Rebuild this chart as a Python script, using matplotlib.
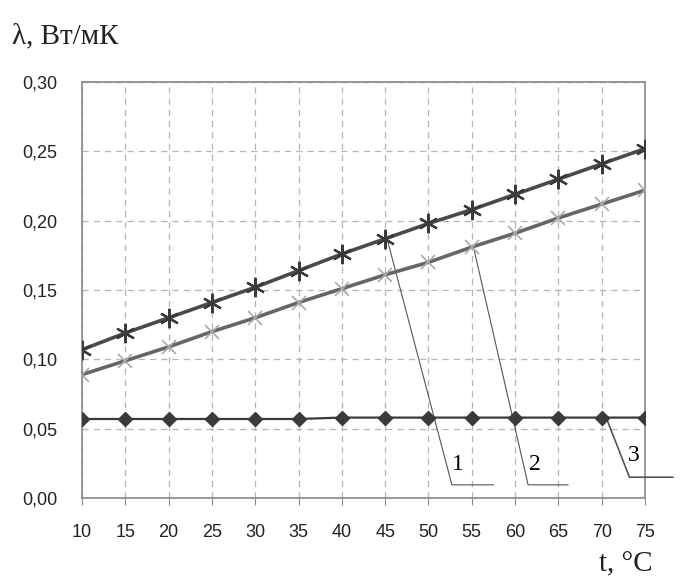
from matplotlib import pyplot as plt
import matplotlib.ticker as ticker

t = [10, 15, 20, 25, 30, 35, 40, 45, 50, 55, 60, 65, 70, 75]
lam1 = [0.107, 0.119, 0.130, 0.141, 0.152, 0.164, 0.176, 0.187, 0.198, 0.208, 0.219, 0.230, 0.241, 0.252]
lam2 = [0.089, 0.099, 0.109, 0.120, 0.130, 0.141, 0.151, 0.161, 0.170, 0.181, 0.191, 0.202, 0.212, 0.222]
lam3 = [0.057, 0.057, 0.057, 0.057, 0.057, 0.057, 0.058, 0.058, 0.058, 0.058, 0.058, 0.058, 0.058, 0.058]
labels = ['1', '2', '3']

fig = plt.figure(figsize=(6.8, 5.78), dpi=100)
ax = fig.add_axes([0.1206, 0.1384, 0.828, 0.7196])

ax.plot(t, lam1, c='#4a4a4a', linewidth=2.6, marker=(6, 2, 0), markersize=14,
        markeredgewidth=1.6, markeredgecolor='#3a3a3a', zorder=4)
ax.plot(t, lam2, c='#666666', linewidth=2.6, marker='x', markersize=10,
        markeredgewidth=1.2, markeredgecolor='#aaaaaa', zorder=4)
ax.plot(t, lam3, c='#3a3a3a', linewidth=1.6, marker='D', markersize=7,
        markerfacecolor='#3a3a3a', markeredgecolor='#3a3a3a', zorder=4)

# выноски с номерами кривых
lc = '#555555'
ax.plot([45.3, 52.7, 57.5], [lam1[7] - 0.002, 0.0095, 0.0095], c=lc, linewidth=0.8, zorder=3)
ax.plot([55.3, 61.5, 66.1], [lam2[9] - 0.003, 0.0095, 0.0095], c=lc, linewidth=0.8, zorder=3)
ax.plot([70.7, 73.2, 78.2], [lam3[12] - 0.003, 0.015, 0.015], c=lc, linewidth=1.2,
        zorder=3, clip_on=False)
ax.text(53.4, 0.024, labels[0], family='Liberation Serif', fontsize=17, ha='center', va='center')
ax.text(62.3, 0.024, labels[1], family='Liberation Serif', fontsize=17, ha='center', va='center')
ax.text(73.7, 0.031, labels[2], family='Liberation Serif', fontsize=17, ha='center', va='center')

ax.set_xlim(10, 75)
ax.set_ylim(0, 0.30)
ax.xaxis.set_major_locator(ticker.MultipleLocator(5))
ax.yaxis.set_major_locator(ticker.MultipleLocator(0.05))
ax.yaxis.set_major_formatter(ticker.FuncFormatter(lambda v, p: ('%.2f' % v).replace('.', ',')))
ax.grid(which='major', color='#b5b5b5', linestyle=(0, (5, 4)), linewidth=0.9)
ax.tick_params(axis='x', direction='out', length=5, pad=14, color='#888888',
               labelsize=13, labelcolor='#222222')
ax.tick_params(axis='y', direction='out', length=0, pad=18,
               labelsize=13, labelcolor='#222222')
for lbl in ax.get_xticklabels() + ax.get_yticklabels():
    lbl.set_family('Liberation Sans')
for s in ax.spines.values():
    s.set_color('#888888')
    s.set_linewidth(1.2)

fig.text(0.018, 0.925, 'λ, Вт/мК', family='Liberation Serif', fontsize=21, color='#222222')
fig.text(0.96, 0.012, 't, °C', family='Liberation Serif', fontsize=21, color='#222222', ha='right')

plt.savefig('out.png', dpi=100)
